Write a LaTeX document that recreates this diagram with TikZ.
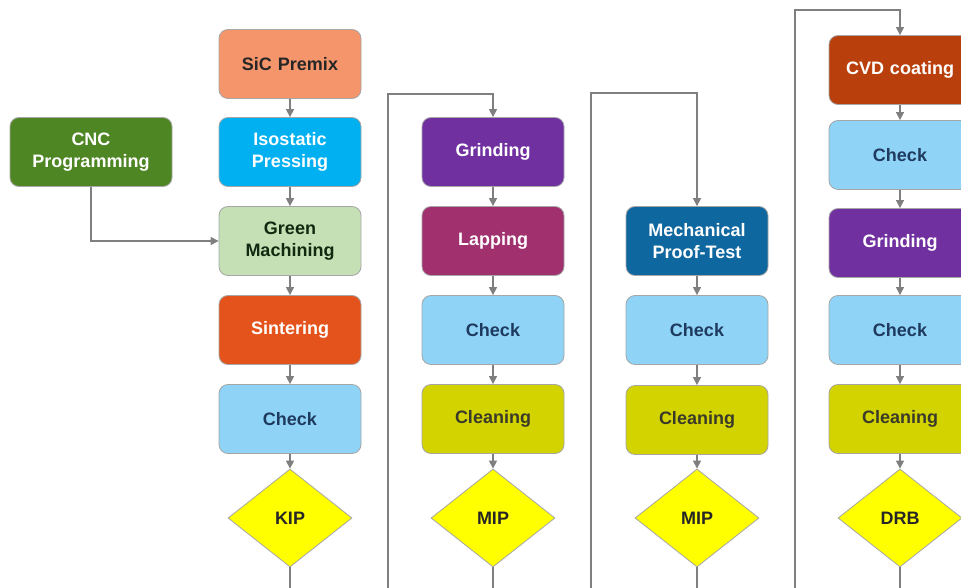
\documentclass[tikz,border=0pt]{standalone}
\usepackage{fontspec}
\setmainfont{Liberation Sans}
\usetikzlibrary{shapes.geometric,arrows.meta}
\definecolor{salmon}{HTML}{F4956C}
\definecolor{isoblue}{HTML}{00B0F0}
\definecolor{greenlight}{HTML}{C5E0B4}
\definecolor{sinter}{HTML}{E4531B}
\definecolor{checkblue}{HTML}{8FD4F6}
\definecolor{cncgreen}{HTML}{4F8624}
\definecolor{purp}{HTML}{7030A0}
\definecolor{lapcol}{HTML}{A0306E}
\definecolor{cleancol}{HTML}{D3D300}
\definecolor{mechcol}{HTML}{0F67A0}
\definecolor{cvdcol}{HTML}{B9400C}
\definecolor{diay}{HTML}{FFFF00}
\definecolor{boxline}{HTML}{A6A6A6}
\definecolor{lineg}{HTML}{7F7F7F}
\definecolor{checktext}{HTML}{1F3A5F}
\definecolor{darktext}{HTML}{262626}
\definecolor{greentext}{HTML}{102A10}
\definecolor{cleantext}{HTML}{3A3A2A}
\begin{document}
\begin{tikzpicture}[x=1pt,y=-1pt,
  box/.style={draw=boxline, line width=0.8pt, rounded corners=9pt,
    minimum width=142pt, minimum height=69pt, text width=130pt, inner sep=2pt,
    align=center, font=\bfseries\fontsize{18}{22}\selectfont},
  sic/.style={box, fill=salmon, text=darktext},
  iso/.style={box, fill=isoblue, text=white},
  gmach/.style={box, fill=greenlight, text=greentext},
  sint/.style={box, fill=sinter, text=white},
  chk/.style={box, fill=checkblue, text=checktext},
  cnc/.style={box, fill=cncgreen, text=white, minimum width=162pt},
  grd/.style={box, fill=purp, text=white},
  lap/.style={box, fill=lapcol, text=white},
  cln/.style={box, fill=cleancol, text=cleantext},
  mech/.style={box, fill=mechcol, text=white},
  cvd/.style={box, fill=cvdcol, text=white},
  dia/.style={shape=diamond, draw=boxline, line width=0.8pt, fill=diay,
    minimum width=124pt, minimum height=98pt, inner sep=0pt,
    text=darktext, font=\bfseries\fontsize{18}{22}\selectfont},
  conn/.style={draw=lineg, line width=1.3pt, -{Triangle[length=8pt,width=8pt]}},
  plainline/.style={draw=lineg, line width=1.3pt}]
\clip (0,0) rectangle (961,588);
\fill[white] (0,0) rectangle (961,588);
% column 1
\node[sic]   (sic)  at (290,64)  {SiC Premix};
\node[iso]   (iso)  at (290,152) {Isostatic\\Pressing};
\node[gmach] (gm)   at (290,241) {Green\\Machining};
\node[sint]  (sin)  at (290,330) {Sintering};
\node[chk]   (chk1) at (290,419) {Check};
\node[dia]   (kip)  at (290,518) {KIP};
\node[cnc]   (cnc)  at (91,152)  {CNC\\Programming};
% column 2
\node[grd] (grd1) at (493,152) {Grinding};
\node[lap] (lap)  at (493,241) {Lapping};
\node[chk] (chk2) at (493,330) {Check};
\node[cln] (cln1) at (493,419) {Cleaning};
\node[dia] (mip1) at (493,518) {MIP};
% column 3
\node[mech] (mech) at (697,241) {Mechanical\\Proof-Test};
\node[chk]  (chk3) at (697,330) {Check};
\node[cln]  (cln2) at (697,420) {Cleaning};
\node[dia]  (mip2) at (697,518) {MIP};
% column 4
\node[cvd] (cvd)  at (900,70)  {CVD coating};
\node[chk] (chk4) at (900,155) {Check};
\node[grd] (grd2) at (900,243) {Grinding};
\node[chk] (chk5) at (900,330) {Check};
\node[cln] (cln3) at (900,419) {Cleaning};
\node[dia] (drb)  at (900,518) {DRB};
% bottom coordinates
\coordinate (b1) at (388,588);
\coordinate (b2) at (591,588);
\coordinate (b3) at (795,588);
% connectors column 1
\draw[conn] (sic) -- (iso);
\draw[conn] (iso) -- (gm);
\draw[conn] (gm) -- (sin);
\draw[conn] (sin) -- (chk1);
\draw[conn] (chk1) -- (kip);
\draw[plainline] (kip.south) -- (kip.south |- b1);
\draw[conn] (cnc.south) |- (gm.west);
% column 2
\draw[conn] (b1) |- ([yshift=23pt]grd1.north) -- (grd1.north);
\draw[conn] (grd1) -- (lap);
\draw[conn] (lap) -- (chk2);
\draw[conn] (chk2) -- (cln1);
\draw[conn] (cln1) -- (mip1);
\draw[plainline] (mip1.south) -- (mip1.south |- b1);
% column 3
\draw[conn] (b2) |- ([yshift=113pt]mech.north) -- (mech.north);
\draw[conn] (mech) -- (chk3);
\draw[conn] (chk3) -- (cln2);
\draw[conn] (cln2) -- (mip2);
\draw[plainline] (mip2.south) -- (mip2.south |- b2);
% column 4
\draw[conn] (b3) |- ([yshift=25pt]cvd.north) -- (cvd.north);
\draw[conn] (cvd) -- (chk4);
\draw[conn] (chk4) -- (grd2);
\draw[conn] (grd2) -- (chk5);
\draw[conn] (chk5) -- (cln3);
\draw[conn] (cln3) -- (drb);
\draw[plainline] (drb.south) -- (drb.south |- b3);
\end{tikzpicture}
\end{document}
